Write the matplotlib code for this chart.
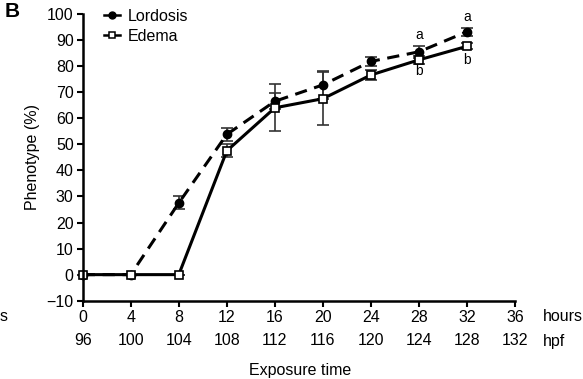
import matplotlib.pyplot as plt
from matplotlib.lines import Line2D

plt.rcParams['font.family'] = ['Liberation Sans', 'DejaVu Sans']

hours = [0, 4, 8, 12, 16, 20, 24, 28, 32]
lordosis = [0, 0, 27.5, 53.8, 66.5, 72.8, 81.8, 85.5, 93.2]
lordosis_err = [0, 0, 2.5, 2.5, 3.0, 5.3, 1.8, 2.2, 1.6]
edema = [0, 0, 0, 47.5, 64.0, 67.5, 76.6, 82.4, 87.6]
edema_err = [0, 0, 0, 2.5, 9.0, 10.2, 1.8, 1.5, 1.2]

xticks = [0, 4, 8, 12, 16, 20, 24, 28, 32, 36]
hpf = [96, 100, 104, 108, 112, 116, 120, 124, 128, 132]
letters = [(28, 92, 'a'), (28, 78, 'b'), (32, 98.7, 'a'), (32, 82.3, 'b')]

fs = 11.5

fig = plt.figure(figsize=(5.83, 3.79), dpi=100)
ax = fig.add_axes([0.1419, 0.2066, 0.7415, 0.7565])

l1 = ax.errorbar(hours, lordosis, yerr=lordosis_err, color='black', ls='--', lw=2.2,
                 marker='o', ms=6, mfc='black', ecolor='#333333', elinewidth=1.2,
                 capsize=4, capthick=1.2, dashes=(4, 2.5))
l2 = ax.errorbar(hours, edema, yerr=edema_err, color='black', ls='-', lw=2.2,
                 marker='s', ms=6, mfc='white', mew=1.2, ecolor='#333333', elinewidth=1.2,
                 capsize=4, capthick=1.2)
for c in (l1, l2):
    for art in c.get_children():
        art.set_clip_on(False)

for x, y, t in letters:
    ax.text(x, y, t, ha='center', va='center', fontsize=10)

ax.set_xlim(0, 36)
ax.set_ylim(-10, 100)
ax.set_xticks(xticks)
ax.set_yticks(range(-10, 101, 10))
ax.tick_params(direction='out', length=4, width=1.5, labelsize=fs, pad=2.5)
ax.spines['top'].set_visible(False)
ax.spines['right'].set_visible(False)
ax.spines['left'].set_linewidth(1.8)
ax.spines['bottom'].set_linewidth(1.8)

sec = ax.secondary_xaxis('bottom')
sec.set_xticks(xticks, labels=[str(h) for h in hpf])
sec.tick_params(length=0, labelsize=fs, pad=23)
sec.spines['bottom'].set_visible(False)

ax.set_ylabel('Phenotype (%)', fontsize=fs, labelpad=5)
fig.text(0.514, 0.022, 'Exposure time', ha='center', va='center', fontsize=fs)
fig.text(0.931, 0.164, 'hours', ha='left', va='center', fontsize=fs)
fig.text(0.931, 0.100, 'hpf', ha='left', va='center', fontsize=fs)
fig.text(0.0, 0.164, 's', ha='left', va='center', fontsize=fs)
fig.text(0.008, 0.97, 'B', ha='left', va='center', fontsize=15, fontweight='bold')

handles = [
    Line2D([], [], color='black', lw=1.8, marker='o', ms=5, mfc='black'),
    Line2D([], [], color='black', lw=1.8, marker='s', ms=5, mfc='white', mew=1.1),
]
ax.legend(handles, ['Lordosis', 'Edema'], loc='upper left',
          bbox_to_anchor=(0.035, 1.04), frameon=False, fontsize=fs,
          handlelength=1.0, handletextpad=0.45, labelspacing=0.3, borderaxespad=0)

fig.savefig('out.png', dpi=100)
